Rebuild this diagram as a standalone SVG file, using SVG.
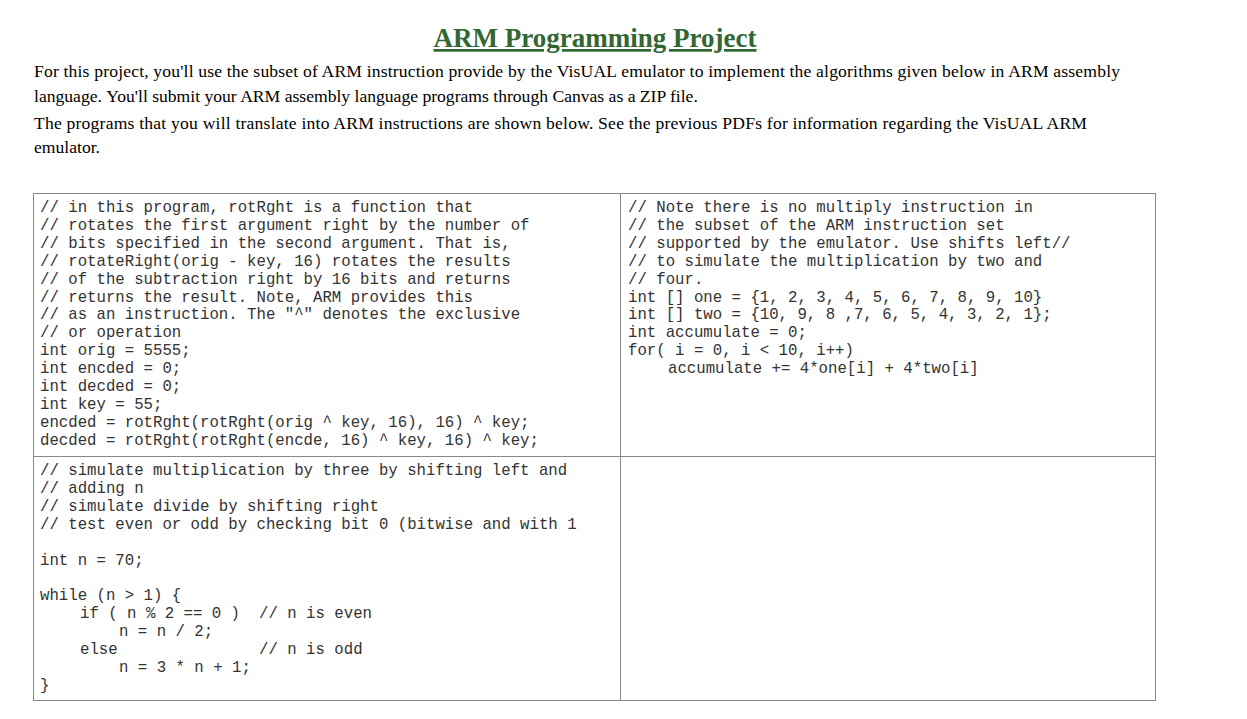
<svg xmlns="http://www.w3.org/2000/svg" width="1247" height="719" viewBox="0 0 1247 719">
<style>
.b{font-family:"Liberation Serif",serif;font-size:17.6px;fill:#000}
.c{font-family:"Liberation Mono",monospace;font-size:15.7px;fill:#333}
.t{fill:none;stroke:#888;stroke-width:1}
</style>
<rect width="1247" height="719" fill="#fff"/>
<text x="595" y="47" text-anchor="middle" font-family="Liberation Serif,serif" font-weight="bold" font-size="27" fill="#336633" text-decoration="underline">ARM Programming Project</text>
<text class="b" x="34" y="77" textLength="1086" lengthAdjust="spacing">For this project, you'll use the subset of ARM instruction provide by the VisUAL emulator to implement the algorithms given below in ARM assembly</text>
<text class="b" x="34" y="102">language.<tspan dx="4.4">You'll submit your ARM assembly language programs through Canvas as a ZIP file.</tspan></text>
<text class="b" x="34" y="129" textLength="1053" lengthAdjust="spacing">The programs that you will translate into ARM instructions are shown below.  See the previous PDFs for information regarding the VisUAL ARM</text>
<text class="b" x="34" y="153">emulator.</text>
<g id="table">
<rect class="t" x="33.5" y="193.5" width="1122" height="507"/>
<line class="t" x1="620.5" y1="193" x2="620.5" y2="700"/>
<line class="t" x1="33" y1="456.5" x2="1155" y2="456.5"/>
</g>
<g id="code1" class="c">
<text x="40" y="212">// in this program, rotRght is a function that</text>
<text x="40" y="230">// rotates the first argument right by the number of</text>
<text x="40" y="248">// bits specified in the second argument.<tspan dx="9.42">That is,</tspan></text>
<text x="40" y="266">// rotateRight(orig - key, 16) rotates the results</text>
<text x="40" y="284">// of the subtraction right by 16 bits and returns</text>
<text x="40" y="302">// returns the result.<tspan dx="9.42">Note, ARM provides this</tspan></text>
<text x="40" y="319">// as an instruction.<tspan dx="9.42">The "^" denotes the exclusive</tspan></text>
<text x="40" y="337">// or operation</text>
<text x="40" y="355">int orig = 5555;</text>
<text x="40" y="373">int encded = 0;</text>
<text x="40" y="391">int decded = 0;</text>
<text x="40" y="409">int key = 55;</text>
<text x="40" y="427">encded = rotRght(rotRght(orig ^ key, 16), 16) ^ key;</text>
<text x="40" y="445">decded = rotRght(rotRght(encde, 16) ^ key, 16) ^ key;</text>
</g>
<g id="code2" class="c">
<text x="628" y="212">// Note there is no multiply instruction in</text>
<text x="628" y="230">// the subset of the ARM instruction set</text>
<text x="628" y="248">// supported by the emulator. Use shifts left//</text>
<text x="628" y="266">// to simulate the multiplication by two and</text>
<text x="628" y="284">// four.</text>
<text x="628" y="302">int [] one = {1, 2, 3, 4, 5, 6, 7, 8, 9, 10}</text>
<text x="628" y="319">int [] two = {10, 9, 8 ,7, 6, 5, 4, 3, 2, 1};</text>
<text x="628" y="337">int accumulate = 0;</text>
<text x="628" y="355">for( i = 0, i &lt; 10, i++)</text>
<text x="668" y="373">accumulate += 4*one[i] + 4*two[i]</text>
</g>
<g id="code3" class="c">
<text x="40" y="475">// simulate multiplication by three by shifting left and</text>
<text x="40" y="493">// adding n</text>
<text x="40" y="511">// simulate divide by shifting right</text>
<text x="40" y="529">// test even or odd by checking bit 0 (bitwise and with 1</text>
<text x="40" y="565">int n = 70;</text>
<text x="40" y="600">while (n &gt; 1) {</text>
<text x="80" y="618">if ( n % 2 == 0 )</text>
<text x="259" y="618">// n is even</text>
<text x="119" y="636">n = n / 2;</text>
<text x="80" y="654">else</text>
<text x="259" y="654">// n is odd</text>
<text x="119" y="672">n = 3 * n + 1;</text>
<text x="40" y="690">}</text>
</g>
</svg>
